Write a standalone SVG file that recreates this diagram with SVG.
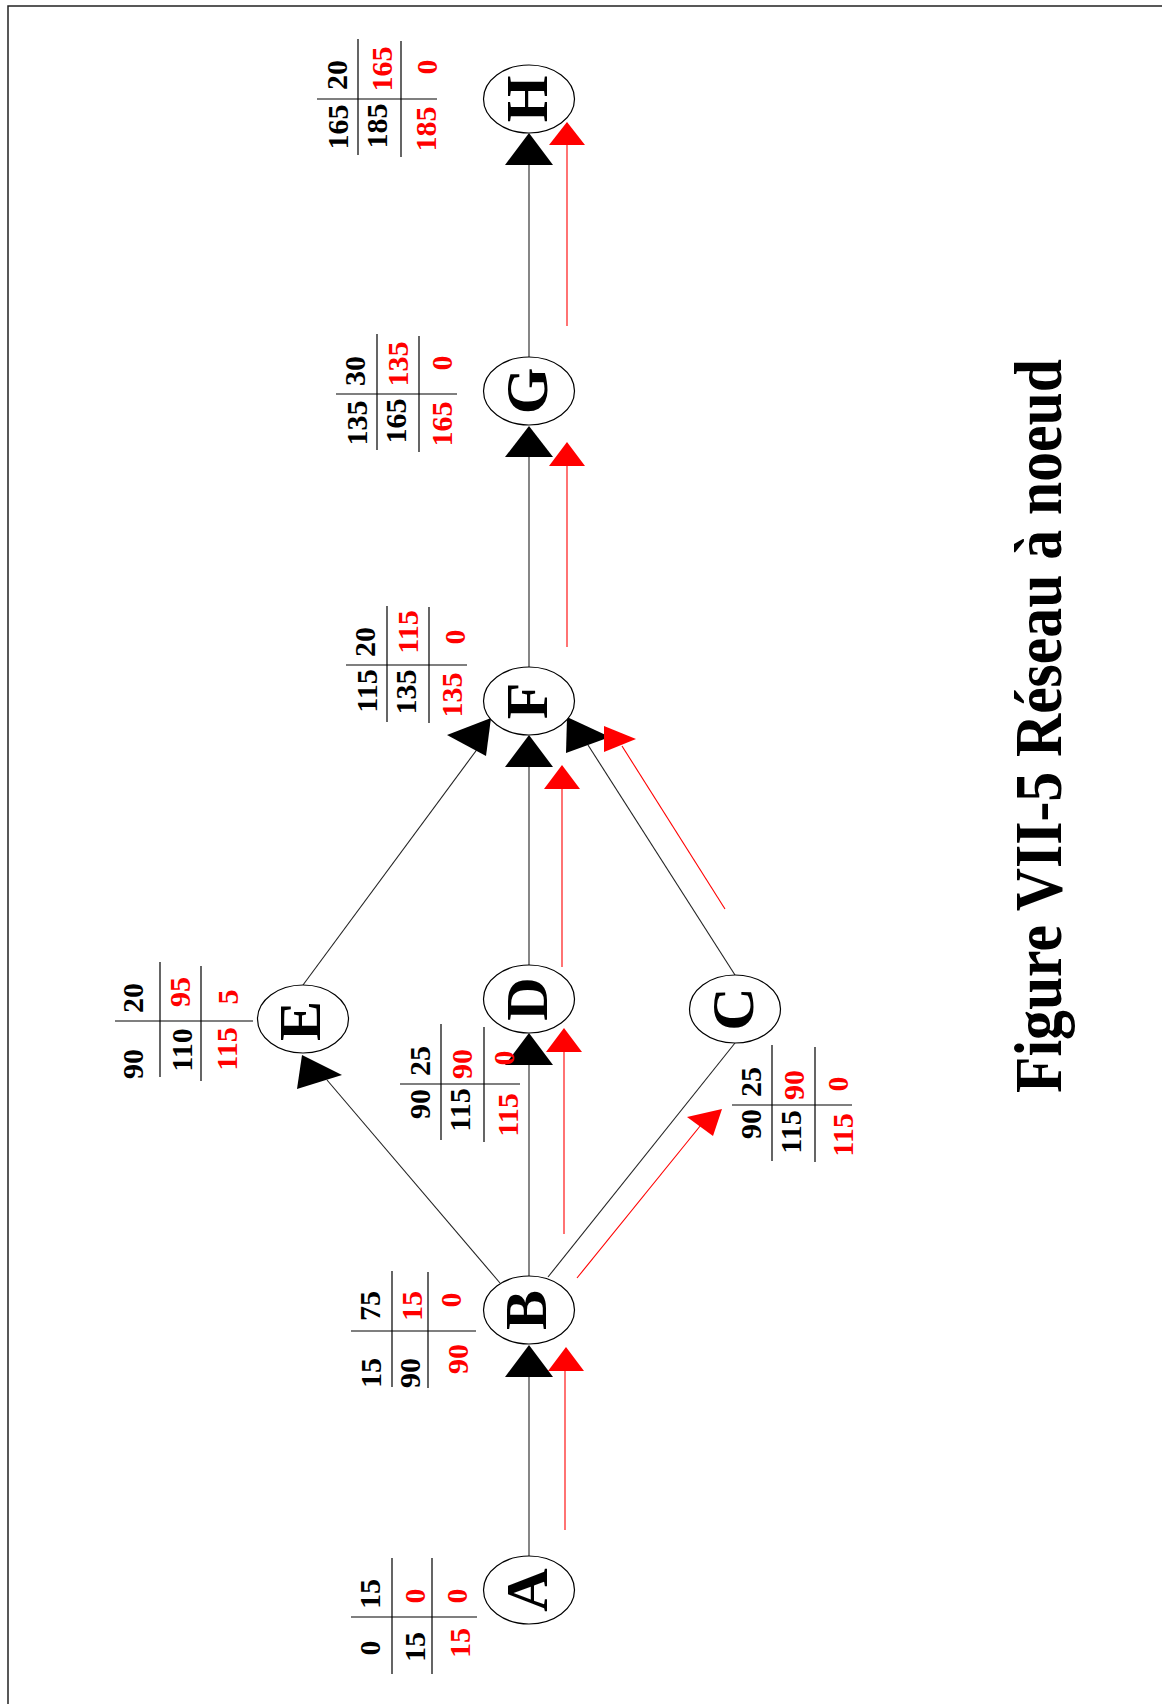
<svg xmlns="http://www.w3.org/2000/svg" width="1162" height="1704" viewBox="0 0 1162 1704">
<style>
.bg{fill:#fff}
.frame{stroke:#222;stroke-width:1.5;fill:none}
.node ellipse{fill:#fff;stroke:#000;stroke-width:1.2}
.lbl{font-family:"Liberation Serif","Times New Roman",serif;font-weight:bold;font-size:60px;text-anchor:middle;fill:#000}
.num{font-family:"Liberation Serif","Times New Roman",serif;font-weight:bold;font-size:30px;text-anchor:middle;fill:#000}
.red{fill:#ff0000}
.tl{stroke:#000;stroke-width:1.2;fill:none}
.edge{stroke:#222;stroke-width:1.1;fill:none}
.redge{stroke:#ff0000;stroke-width:1.1;fill:none}
.ah{fill:#000}
.rah{fill:#ff0000}
.title{font-family:"Liberation Serif","Times New Roman",serif;font-weight:bold;font-size:68px;fill:#000}
</style>
<rect class="bg" x="0" y="0" width="1162" height="1704"/>
<path class="frame" d="M8,1704 V6 H1162"/>

<g id="connectors">
  <line class="edge" x1="529" y1="1556" x2="529" y2="1377"/>
  <line class="edge" x1="529" y1="1277" x2="529" y2="1065"/>
  <line class="edge" x1="529" y1="965" x2="529" y2="767"/>
  <line class="edge" x1="529" y1="667" x2="529" y2="457"/>
  <line class="edge" x1="529" y1="357" x2="529" y2="165"/>
  <line class="edge" x1="500" y1="1283" x2="327" y2="1080"/>
  <line class="edge" x1="548" y1="1277" x2="735" y2="1043"/>
  <line class="edge" x1="303" y1="985" x2="484" y2="740"/>
  <line class="edge" x1="735" y1="975" x2="588" y2="745"/>
  <polygon class="ah" points="529,1345 505,1377 553,1377"/>
  <polygon class="ah" points="529,1033 505,1065 553,1065"/>
  <polygon class="ah" points="529,735 505,767 553,767"/>
  <polygon class="ah" points="529,426 505,457 553,457"/>
  <polygon class="ah" points="529,133 505,165 553,165"/>
  <polygon class="ah" points="302,1055 342,1075 297,1089"/>
  <polygon class="ah" points="491,718 447,735 486,756"/>
  <polygon class="ah" points="567,717 610,737 566,753"/>

  <line class="redge" x1="565" y1="1530" x2="565" y2="1371"/>
  <line class="redge" x1="564" y1="1234" x2="564" y2="1052"/>
  <line class="redge" x1="562" y1="967" x2="562" y2="789"/>
  <line class="redge" x1="567" y1="647" x2="567" y2="466"/>
  <line class="redge" x1="567" y1="326" x2="567" y2="145"/>
  <line class="redge" x1="577" y1="1278" x2="705" y2="1120"/>
  <line class="redge" x1="725" y1="909" x2="622" y2="746"/>
  <polygon class="rah" points="566,1347 548,1371 584,1371"/>
  <polygon class="rah" points="564,1028 546,1052 582,1052"/>
  <polygon class="rah" points="562,765 544,789 580,789"/>
  <polygon class="rah" points="567,442 549,466 585,466"/>
  <polygon class="rah" points="567,122 549,145 585,145"/>
  <polygon class="rah" points="722,1109 687,1117 713,1136"/>
  <polygon class="rah" points="636,739 604,726 604,752"/>
</g>

<g id="node-A" class="node">
  <ellipse cx="529" cy="1590" rx="45.5" ry="34"/>
  <text class="lbl" transform="translate(547,1590) rotate(-90)">A</text>
  <path class="tl" d="M351,1617 H477 M392,1558 V1674 M432,1558 V1674"/>
  <text class="num" transform="translate(380,1594) rotate(-90)">15</text>
  <text class="num" transform="translate(380,1648) rotate(-90)">0</text>
  <text class="num red" transform="translate(425,1596) rotate(-90)">0</text>
  <text class="num" transform="translate(425,1647) rotate(-90)">15</text>
  <text class="num red" transform="translate(467,1596) rotate(-90)">0</text>
  <text class="num red" transform="translate(470,1643) rotate(-90)">15</text>
</g>

<g id="node-B" class="node">
  <ellipse cx="529" cy="1310" rx="45.5" ry="34"/>
  <text class="lbl" transform="translate(546,1310) rotate(-90)">B</text>
  <path class="tl" d="M351,1331 H476 M392,1271 V1387 M428,1272 V1388"/>
  <text class="num" transform="translate(380,1306) rotate(-90)">75</text>
  <text class="num" transform="translate(381,1373) rotate(-90)">15</text>
  <text class="num red" transform="translate(422,1306) rotate(-90)">15</text>
  <text class="num" transform="translate(420,1373) rotate(-90)">90</text>
  <text class="num red" transform="translate(461,1300) rotate(-90)">0</text>
  <text class="num red" transform="translate(468,1359) rotate(-90)">90</text>
</g>

<g id="node-E" class="node">
  <ellipse cx="303" cy="1019" rx="45.5" ry="34"/>
  <text class="lbl" transform="translate(320,1021) rotate(-90)">E</text>
  <path class="tl" d="M115,1021 H253 M160,962 V1077 M201,966 V1081"/>
  <text class="num" transform="translate(143,998) rotate(-90)">20</text>
  <text class="num" transform="translate(143,1064) rotate(-90)">90</text>
  <text class="num red" transform="translate(190,992) rotate(-90)">95</text>
  <text class="num" transform="translate(192,1050) rotate(-90)">110</text>
  <text class="num red" transform="translate(238,997) rotate(-90)">5</text>
  <text class="num red" transform="translate(237,1049) rotate(-90)">115</text>
</g>

<g id="node-D" class="node">
  <ellipse cx="529" cy="999" rx="45.5" ry="34"/>
  <text class="lbl" transform="translate(547,999) rotate(-90)">D</text>
  <path class="tl" d="M400,1084 H520 M441,1024 V1140 M484,1027 V1142"/>
  <text class="num" transform="translate(430,1061) rotate(-90)">25</text>
  <text class="num" transform="translate(430,1104) rotate(-90)">90</text>
  <text class="num red" transform="translate(472,1064) rotate(-90)">90</text>
  <text class="num" transform="translate(470,1110) rotate(-90)">115</text>
  <text class="num red" transform="translate(514,1058) rotate(-90)">0</text>
  <text class="num red" transform="translate(518,1115) rotate(-90)">115</text>
</g>

<g id="node-C" class="node">
  <ellipse cx="735" cy="1009" rx="45.5" ry="34"/>
  <text class="lbl" transform="translate(753,1009) rotate(-90)">C</text>
  <path class="tl" d="M732,1105 H852 M772,1045 V1161 M815,1047 V1162"/>
  <text class="num" transform="translate(761,1082) rotate(-90)">25</text>
  <text class="num" transform="translate(761,1124) rotate(-90)">90</text>
  <text class="num red" transform="translate(804,1085) rotate(-90)">90</text>
  <text class="num" transform="translate(801,1132) rotate(-90)">115</text>
  <text class="num red" transform="translate(848,1084) rotate(-90)">0</text>
  <text class="num red" transform="translate(853,1135) rotate(-90)">115</text>
</g>

<g id="node-F" class="node">
  <ellipse cx="529" cy="701" rx="45.5" ry="34"/>
  <text class="lbl" transform="translate(547,701) rotate(-90)">F</text>
  <path class="tl" d="M346,665 H467 M387,606 V722 M429,607 V723"/>
  <text class="num" transform="translate(375,642) rotate(-90)">20</text>
  <text class="num" transform="translate(377,691) rotate(-90)">115</text>
  <text class="num red" transform="translate(418,632) rotate(-90)">115</text>
  <text class="num" transform="translate(416,692) rotate(-90)">135</text>
  <text class="num red" transform="translate(465,637) rotate(-90)">0</text>
  <text class="num red" transform="translate(462,695) rotate(-90)">135</text>
</g>

<g id="node-G" class="node">
  <ellipse cx="529" cy="391" rx="45.5" ry="34"/>
  <text class="lbl" transform="translate(547,391) rotate(-90)">G</text>
  <path class="tl" d="M336,394 H457 M377,334 V450 M419,336 V452"/>
  <text class="num" transform="translate(365,371) rotate(-90)">30</text>
  <text class="num" transform="translate(367,423) rotate(-90)">135</text>
  <text class="num red" transform="translate(408,364) rotate(-90)">135</text>
  <text class="num" transform="translate(406,421) rotate(-90)">165</text>
  <text class="num red" transform="translate(452,363) rotate(-90)">0</text>
  <text class="num red" transform="translate(452,424) rotate(-90)">165</text>
</g>

<g id="node-H" class="node">
  <ellipse cx="529" cy="99" rx="45.5" ry="34"/>
  <text class="lbl" transform="translate(547,99) rotate(-90)">H</text>
  <path class="tl" d="M317,99 H437 M358,39 V155 M401,41 V157"/>
  <text class="num" transform="translate(347,75) rotate(-90)">20</text>
  <text class="num" transform="translate(348,127) rotate(-90)">165</text>
  <text class="num red" transform="translate(392,69) rotate(-90)">165</text>
  <text class="num" transform="translate(387,126) rotate(-90)">185</text>
  <text class="num red" transform="translate(437,67) rotate(-90)">0</text>
  <text class="num red" transform="translate(436,129) rotate(-90)">185</text>
</g>

<g id="title">
  <text class="title" transform="translate(1061,1093) rotate(-90)" textLength="734" lengthAdjust="spacingAndGlyphs">Figure VII-5 Réseau à noeud</text>
</g>
</svg>
